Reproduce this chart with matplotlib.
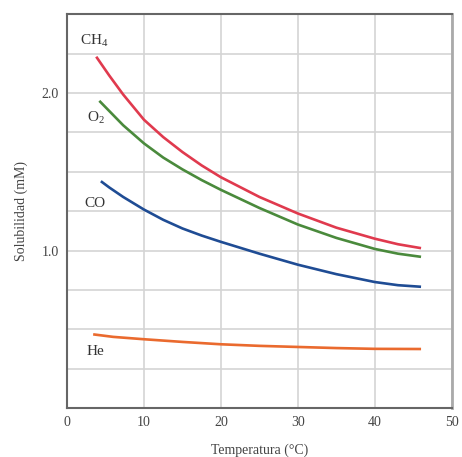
import matplotlib
matplotlib.use("Agg")
import matplotlib.pyplot as plt
from matplotlib.ticker import MultipleLocator

# values
ch4_x = [3.8, 5.5, 7.3, 10, 12.5, 15, 17.5, 20, 25, 30, 35, 40, 43, 46]
ch4_y = [2.23, 2.11, 1.99, 1.83, 1.72, 1.625, 1.54, 1.465, 1.34, 1.235, 1.145, 1.075, 1.04, 1.015]
o2_x = [4.2, 5.5, 7.3, 10, 12.5, 15, 17.5, 20, 25, 30, 35, 40, 43, 46]
o2_y = [1.95, 1.885, 1.795, 1.68, 1.59, 1.515, 1.447, 1.385, 1.27, 1.165, 1.08, 1.01, 0.98, 0.96]
co_x = [4.4, 5.5, 7.3, 10, 12.5, 15, 17.5, 20, 25, 30, 35, 40, 43, 46]
co_y = [1.44, 1.40, 1.34, 1.26, 1.195, 1.14, 1.095, 1.055, 0.98, 0.91, 0.85, 0.80, 0.78, 0.77]
he_x = [3.4, 6, 10, 15, 20, 25, 30, 35, 40, 46]
he_y = [0.468, 0.452, 0.437, 0.42, 0.405, 0.395, 0.388, 0.381, 0.376, 0.375]

labels = ["CH$_4$", "O$_2$", "CO", "He"]
label_pos = [(1.7, 2.33), (2.6, 1.84), (2.3, 1.30), (2.5, 0.36)]
colors = ["#e03a4e", "#4a8a3c", "#1f4c94", "#ea6a2e"]

plt.rcParams['font.family'] = ['Liberation Serif', 'DejaVu Serif']
plt.rcParams['mathtext.fontset'] = 'custom'
plt.rcParams['mathtext.rm'] = 'Liberation Serif'
plt.rcParams['mathtext.default'] = 'rm'

fig = plt.figure(figsize=(4.62, 4.57), dpi=100)
ax = fig.add_axes([0.145, 0.107, 0.833, 0.862])

for xs, ys, c in zip([ch4_x, o2_x, co_x, he_x], [ch4_y, o2_y, co_y, he_y], colors):
    ax.plot(xs, ys, color=c, lw=1.9, solid_joinstyle='round', solid_capstyle='butt', zorder=3)

for lab, (tx, ty) in zip(labels, label_pos):
    ax.text(tx, ty, lab, fontsize=11, color='#333333', ha='left', va='center')

ax.set_xlim(0, 50)
ax.set_ylim(0, 2.5)
ax.xaxis.set_major_locator(MultipleLocator(10))
ax.set_yticks([1.0, 2.0])
ax.set_yticklabels(["1.0", "2.0"])
ax.yaxis.set_minor_locator(MultipleLocator(0.25))
ax.grid(True, which='major', axis='x', color='#d4d4d4', lw=1.2)
ax.grid(True, which='both', axis='y', color='#d4d4d4', lw=1.2)
ax.tick_params(which='both', length=0, labelsize=10, labelcolor='#444444', pad=6)

for s in ax.spines.values():
    s.set_color('#666666')
    s.set_linewidth(1.5)
ax.spines['right'].set_color('#aaaaaa')
ax.spines['right'].set_linewidth(2)

ax.set_xlabel("Temperatura (°C)", fontsize=10, color='#444444', labelpad=10)
ax.set_ylabel("Solubilidad (mM)", fontsize=10, color='#444444', labelpad=10)

fig.savefig("out.png", dpi=100)
